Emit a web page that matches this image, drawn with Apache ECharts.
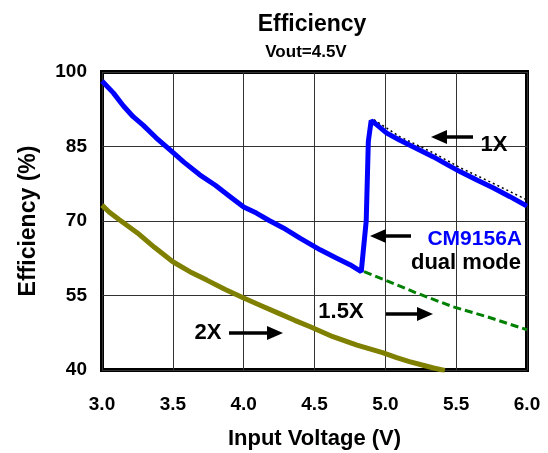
<!DOCTYPE html>
<html>
<head>
<meta charset="utf-8">
<script src="https://cdn.jsdelivr.net/npm/echarts@6/dist/echarts.min.js"></script>
<style>
  html, body { margin: 0; padding: 0; background: #fff; }
  #chart { width: 548px; height: 453px; }
</style>
</head>
<body>
<div id="chart"></div>
<script>
// Axis ticks
const xTicks = [3.0, 3.5, 4.0, 4.5, 5.0, 5.5, 6.0];
const yTicks = [40, 55, 70, 85, 100];

// CM9156A dual mode efficiency (1X above the switch-over, 1.5X below)
const dualVin = [3.00, 3.08, 3.15, 3.22, 3.29, 3.38, 3.48, 3.58, 3.69, 3.80, 3.90, 4.00, 4.09, 4.18, 4.28, 4.40, 4.54, 4.65, 4.75, 4.83, 4.865, 4.88, 4.90, 4.93, 5.01, 5.10, 5.22, 5.34, 5.44, 5.53, 5.65, 5.76, 5.88, 6.00];
const dualEff = [98.2, 95.8, 93.2, 91.0, 89.3, 86.8, 84.3, 81.8, 79.3, 77.2, 75.0, 72.8, 71.6, 70.1, 68.6, 66.5, 64.2, 62.6, 61.2, 59.8, 70.0, 86.0, 90.2, 89.6, 87.7, 86.3, 84.6, 82.9, 81.3, 79.9, 78.2, 76.7, 74.9, 73.0];

// 1X mode only
const oneXVin = [4.92, 5.10, 5.34, 5.53, 5.76, 5.96, 6.00];
const oneXEff = [90.4, 87.0, 83.7, 80.7, 77.6, 74.8, 74.2];

// 1.5X mode only
const onePointFiveXVin = [4.85, 5.00, 5.22, 5.48, 5.72, 6.00];
const onePointFiveXEff = [59.8, 58.1, 55.5, 52.7, 50.7, 48.1];

// 2X mode only
const twoXVin = [3.00, 3.05, 3.12, 3.25, 3.37, 3.50, 3.62, 3.74, 3.87, 4.00, 4.12, 4.24, 4.36, 4.47, 4.63, 4.80, 4.98, 5.08, 5.17, 5.26, 5.34, 5.42];
const twoXEff = [73.2, 71.8, 70.3, 67.6, 64.7, 61.8, 59.8, 58.1, 56.2, 54.5, 53.0, 51.5, 50.0, 48.7, 46.7, 45.0, 43.5, 42.5, 41.7, 41.0, 40.4, 39.9];

const pairs = (xs, ys) => xs.map((x, i) => [x, ys[i]]);

const FONT = '"Liberation Sans", Arial, sans-serif';

const chart = echarts.init(document.getElementById('chart'), null, { renderer: 'canvas' });

// arrow drawn as a shaft plus a triangular head
function arrow(x1, x2, y) {
  const dir = x2 > x1 ? 1 : -1;
  const headLen = 16, headHalf = 7;
  return [
    { type: 'line', shape: { x1: x1, y1: y, x2: x2 - dir * headLen, y2: y },
      style: { stroke: '#000', lineWidth: 3.5 }, z: 100 },
    { type: 'polygon', shape: { points: [[x2, y], [x2 - dir * headLen, y - headHalf], [x2 - dir * headLen, y + headHalf]] },
      style: { fill: '#000' }, z: 100 }
  ];
}

function label(text, x, y, size, color, align) {
  return { type: 'text', x: x, y: y, z: 100,
    style: { text: text, fill: color || '#000', font: 'bold ' + size + 'px ' + FONT,
      align: align || 'center', verticalAlign: 'middle' } };
}

const option = {
  animation: false,
  backgroundColor: '#fff',
  title: [
    { text: 'Efficiency', left: 307, top: 8, textAlign: 'center',
      textStyle: { fontFamily: FONT, fontWeight: 'bold', fontSize: 23, color: '#000' } },
    { text: 'Vout=4.5V', left: 301, top: 39, textAlign: 'center',
      textStyle: { fontFamily: FONT, fontWeight: 'bold', fontSize: 17, color: '#000' } }
  ],
  grid: { left: 102, right: 21, top: 72, bottom: 83, show: true, borderColor: '#000', borderWidth: 4,
    backgroundColor: 'transparent', outerBoundsMode: 'none', containLabel: false },
  xAxis: {
    type: 'value', min: 3.0, max: 6.0, interval: 0.5,
    name: 'Input Voltage (V)', nameLocation: 'middle', nameGap: 58,
    nameTextStyle: { fontFamily: FONT, fontWeight: 'bold', fontSize: 22, color: '#000' },
    axisLine: { show: false }, axisTick: { show: false },
    axisLabel: { margin: 25, fontFamily: FONT, fontWeight: 'bold', fontSize: 19, color: '#000',
      formatter: v => (xTicks.includes(v) ? v.toFixed(1) : '') },
    splitLine: { show: true, lineStyle: { color: '#333', width: 1 } }
  },
  yAxis: {
    type: 'value', min: yTicks[0], max: yTicks[yTicks.length - 1], interval: 15,
    name: 'Efficiency (%)', nameLocation: 'middle', nameGap: 62, nameRotate: 90,
    nameTextStyle: { fontFamily: FONT, fontWeight: 'bold', fontSize: 23, color: '#000' },
    axisLine: { show: false }, axisTick: { show: false },
    axisLabel: { margin: 15, fontFamily: FONT, fontWeight: 'bold', fontSize: 19, color: '#000' },
    splitLine: { show: true, lineStyle: { color: '#333', width: 1 } }
  },
  series: [
    { name: '2X', type: 'line', data: pairs(twoXVin, twoXEff), showSymbol: false, clip: true,
      lineStyle: { color: '#808000', width: 5 }, z: 3 },
    { name: '1.5X', type: 'line', data: pairs(onePointFiveXVin, onePointFiveXEff), showSymbol: false,
      lineStyle: { color: '#008000', width: 3, type: [8, 4] }, z: 3 },
    { name: '1X', type: 'line', data: pairs(oneXVin, oneXEff), showSymbol: false,
      lineStyle: { color: '#000', width: 1.5, type: [2, 3] }, z: 3 },
    { name: 'CM9156A', type: 'line', data: pairs(dualVin, dualEff), showSymbol: false,
      lineStyle: { color: '#0000ff', width: 5 }, z: 4 }
  ],
  graphic: [
    ...arrow(473, 431, 137),
    label('1X', 494, 145, 22),
    ...arrow(411, 370, 236),
    label('CM9156A', 522, 239, 21, '#0000ff', 'right'),
    label('dual mode', 521, 263, 22, '#000', 'right'),
    ...arrow(386, 433, 314),
    label('1.5X', 341, 312, 22),
    ...arrow(229, 283, 333),
    label('2X', 208, 333, 22)
  ]
};

chart.setOption(option);
</script>
</body>
</html>
